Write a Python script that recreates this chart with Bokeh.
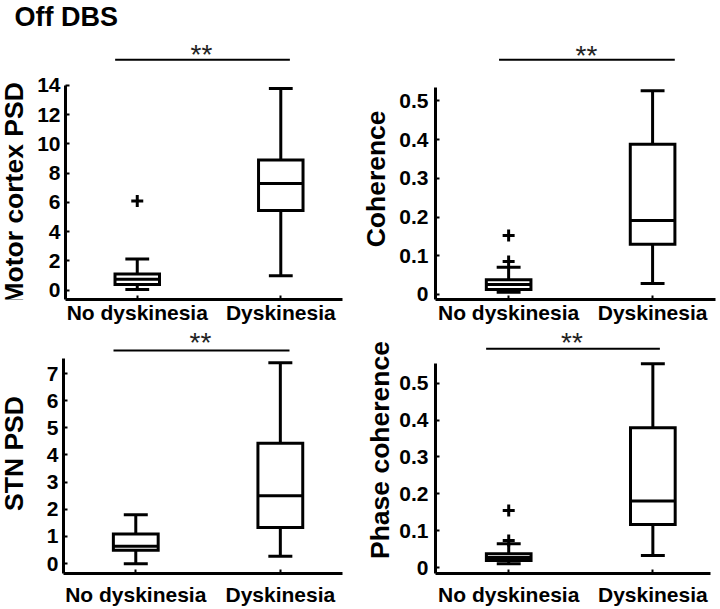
from bokeh.plotting import figure
from bokeh.layouts import column, row
from bokeh.models import Range1d, FixedTicker, CustomJSTickFormatter, Label
from bokeh.embed import file_html
from bokeh.resources import INLINE

FONT = "Liberation Sans"

title_text = "Off DBS"
sig_text = "**"
categories = ["No dyskinesia", "Dyskinesia"]

# Motor cortex PSD: whisker low, q1, median, q3, whisker high per category
mc_low = [0.05, 1.0]
mc_q1 = [0.39, 5.45]
mc_med = [0.76, 7.3]
mc_q3 = [1.12, 8.9]
mc_high = [2.14, 13.78]
mc_out_cat = ["No dyskinesia"]
mc_out_val = [6.1]
mc_ticks = [0, 2, 4, 6, 8, 10, 12, 14]

# Coherence
coh_low = [0.006, 0.028]
coh_q1 = [0.013, 0.130]
coh_med = [0.026, 0.191]
coh_q3 = [0.038, 0.388]
coh_high = [0.070, 0.526]
coh_out_cat = ["No dyskinesia", "No dyskinesia"]
coh_out_val = [0.085, 0.152]
coh_ticks = [0, 0.1, 0.2, 0.3, 0.4, 0.5]

# STN PSD
stn_low = [-0.01, 0.27]
stn_q1 = [0.49, 1.33]
stn_med = [0.64, 2.5]
stn_q3 = [1.09, 4.43]
stn_high = [1.8, 7.4]
stn_out_cat = []
stn_out_val = []
stn_ticks = [0, 1, 2, 3, 4, 5, 6, 7]

# Phase coherence
ph_low = [0.011, 0.033]
ph_q1 = [0.020, 0.117]
ph_med = [0.028, 0.181]
ph_q3 = [0.038, 0.379]
ph_high = [0.065, 0.552]
ph_out_cat = ["No dyskinesia", "No dyskinesia"]
ph_out_val = [0.074, 0.155]
ph_ticks = [0, 0.1, 0.2, 0.3, 0.4, 0.5]

y_labels = ["Motor cortex PSD", "Coherence", "STN PSD", "Phase coherence"]

# ---- layout in page pixels: canvas/frame = (left, right, top, bottom) ----
TITLE_CANVAS = (0, 720, 0, 36)
TITLE_FS = 27
TITLE_BASE = 30
YLAB_FS = 26.5
STAR_FS = 28
TICK_FS = 21
MID = 0.3465       # rotated text: baseline offset from a "middle" anchor, in em
MID_H = 0.485      # horizontal text: baseline offset below a "middle" anchor, in em
ROT_SHIFT = 14     # correction along rotated text direction
ROW_SPLIT = 326    # page y where the second row of figures begins

layouts = [
    dict(canvas=(34, 358, 36, ROW_SPLIT), frame=(63, 342, 36, 300), data_top_px=85,
         xr=(0.5, 2.43), yr=(-0.63, 14.0),
         strip=(0, 34, 36, ROW_SPLIT), lab_x=23, lab_y=195,
         sig_y=59.3, sig_x=(113, 289), star_b=56.7, star_x=200, ystand=5, xstand=1),
    dict(canvas=(396, 720, 36, ROW_SPLIT), frame=(433, 715, 36, 300), data_top_px=87,
         xr=(0.492, 2.437), yr=(-0.013, 0.535),
         strip=(358, 396, 36, ROW_SPLIT), lab_x=385, lab_y=179,
         sig_y=59.3, sig_x=(497, 674), star_b=57.3, star_x=585, ystand=7, xstand=1),
    dict(canvas=(34, 358, ROW_SPLIT, 608), frame=(63, 342, ROW_SPLIT, 574), data_top_px=358,
         xr=(0.5, 2.43), yr=(-0.367, 7.56),
         strip=(0, 34, ROW_SPLIT, 608), lab_x=23, lab_y=457,
         sig_y=350, sig_x=(113, 289), star_b=345, star_x=200, ystand=5, xstand=9),
    dict(canvas=(396, 720, ROW_SPLIT, 608), frame=(433, 710, ROW_SPLIT, 574), data_top_px=363,
         xr=(0.492, 2.40), yr=(-0.0154, 0.5534),
         strip=(358, 396, ROW_SPLIT, 608), lab_x=389, lab_y=453,
         sig_y=348.3, sig_x=(484, 659), star_b=345, star_x=570.5, ystand=7, xstand=9),
]

datasets = [
    (mc_low, mc_q1, mc_med, mc_q3, mc_high, mc_out_cat, mc_out_val, mc_ticks),
    (coh_low, coh_q1, coh_med, coh_q3, coh_high, coh_out_cat, coh_out_val, coh_ticks),
    (stn_low, stn_q1, stn_med, stn_q3, stn_high, stn_out_cat, stn_out_val, stn_ticks),
    (ph_low, ph_q1, ph_med, ph_q3, ph_high, ph_out_cat, ph_out_val, ph_ticks),
]

BOX_W = 0.31
CAP_W = 0.166


def blank_fig(canvas):
    cl, cr, ct, cb = canvas
    p = figure(width=cr - cl, height=cb - ct, x_range=Range1d(cl, cr), y_range=Range1d(-cb, -ct),
               x_axis_type=None, y_axis_type=None, output_backend="svg", toolbar_location=None,
               min_border_left=0, min_border_right=0, min_border_top=0, min_border_bottom=0)
    p.outline_line_color = None
    p.background_fill_color = "white"
    p.border_fill_color = "white"
    return p


def label_strip(L, text):
    s = blank_fig(L["strip"])
    s.add_layout(Label(x=L["lab_x"] - MID * YLAB_FS, y=-(L["lab_y"] + ROT_SHIFT), text=text,
                       angle=90, angle_units="deg", text_align="center", text_baseline="middle",
                       text_font=FONT, text_font_size=f"{YLAB_FS}px", text_font_style="bold",
                       text_color="black"))
    return s


def make_panel(L, data):
    cl, cr, ct, cb = L["canvas"]
    fl, fr, ft, fb = L["frame"]
    x0, x1 = L["xr"]
    y0, ytop = L["yr"]
    per_px = (ytop - y0) / (fb - L["data_top_px"])
    y1 = ytop + (L["data_top_px"] - ft) * per_px

    def dx(px):
        return x0 + (px - fl) * (x1 - x0) / (fr - fl)

    def dy(py):
        return y1 - (py - ft) * per_px

    p = figure(width=cr - cl, height=cb - ct,
               x_range=Range1d(x0, x1), y_range=Range1d(y0, y1),
               output_backend="svg", toolbar_location=None,
               min_border_left=fl - cl, min_border_right=cr - fr,
               min_border_top=ft - ct, min_border_bottom=cb - fb)
    p.outline_line_color = None
    p.xgrid.visible = False
    p.ygrid.visible = False
    p.background_fill_color = "white"
    p.border_fill_color = "white"

    low, q1, med, q3, high, out_cat, out_val, ticks = data
    xs = [categories.index(c) + 1 for c in categories]

    # whiskers
    p.segment(x0=xs, y0=q3, x1=xs, y1=high, line_color="black", line_width=3)
    p.segment(x0=xs, y0=low, x1=xs, y1=q1, line_color="black", line_width=3)
    # caps
    p.segment(x0=[x - CAP_W / 2 for x in xs], y0=high, x1=[x + CAP_W / 2 for x in xs], y1=high,
              line_color="black", line_width=3)
    p.segment(x0=[x - CAP_W / 2 for x in xs], y0=low, x1=[x + CAP_W / 2 for x in xs], y1=low,
              line_color="black", line_width=3)
    # boxes
    p.vbar(x=xs, width=BOX_W, bottom=q1, top=q3, fill_color="white",
           line_color="black", line_width=3, line_join="miter")
    # medians
    p.segment(x0=[x - BOX_W / 2 for x in xs], y0=med, x1=[x + BOX_W / 2 for x in xs], y1=med,
              line_color="black", line_width=3)
    # outliers
    if out_val:
        ox = [categories.index(c) + 1 for c in out_cat]
        p.scatter(x=ox, y=out_val, marker="cross", size=12, line_color="black", line_width=3)

    # axes
    p.xaxis.ticker = FixedTicker(ticks=xs)
    p.xaxis.major_label_overrides = {x: c for x, c in zip(xs, categories)}
    p.yaxis.ticker = FixedTicker(ticks=ticks)
    p.yaxis.bounds = (y0, ytop)
    p.yaxis.formatter = CustomJSTickFormatter(code="return String(Number(tick.toFixed(3)));")
    for ax in (p.xaxis, p.yaxis):
        ax.axis_line_width = 3
        ax.axis_line_color = "black"
        ax.major_tick_in = 4
        ax.major_tick_out = 0
        ax.major_tick_line_width = 2
        ax.major_tick_line_color = "black"
        ax.minor_tick_line_color = None
        ax.major_label_text_font = FONT
        ax.major_label_text_font_size = f"{TICK_FS}px"
        ax.major_label_text_font_style = "bold"
        ax.major_label_text_color = "black"
    p.yaxis.major_label_standoff = L["ystand"]
    p.xaxis.major_label_standoff = L["xstand"]

    # significance bar and stars
    sx0, sx1 = L["sig_x"]
    p.segment(x0=[dx(sx0)], y0=[dy(L["sig_y"])], x1=[dx(sx1)], y1=[dy(L["sig_y"])],
              line_color="black", line_width=2)
    star_base = L["star_b"] + 0.39 * STAR_FS
    p.add_layout(Label(x=dx(L["star_x"]), y=dy(star_base - MID_H * STAR_FS), text=sig_text,
                       text_align="center", text_baseline="middle", text_font=FONT,
                       text_font_size=f"{STAR_FS}px", text_color="#222222"))
    return p


title_fig = blank_fig(TITLE_CANVAS)
title_fig.add_layout(Label(x=14, y=-(TITLE_BASE - MID_H * TITLE_FS), text=title_text,
                           text_align="left", text_baseline="middle", text_font=FONT,
                           text_font_size=f"{TITLE_FS}px", text_font_style="bold",
                           text_color="black"))

panels = [make_panel(L, d) for L, d in zip(layouts, datasets)]
strips = [label_strip(L, yl) for L, yl in zip(layouts, y_labels)]

layout = column(title_fig,
                row(strips[0], panels[0], strips[1], panels[1]),
                row(strips[2], panels[2], strips[3], panels[3]))

open("out.html", "w").write(file_html(layout, INLINE))
